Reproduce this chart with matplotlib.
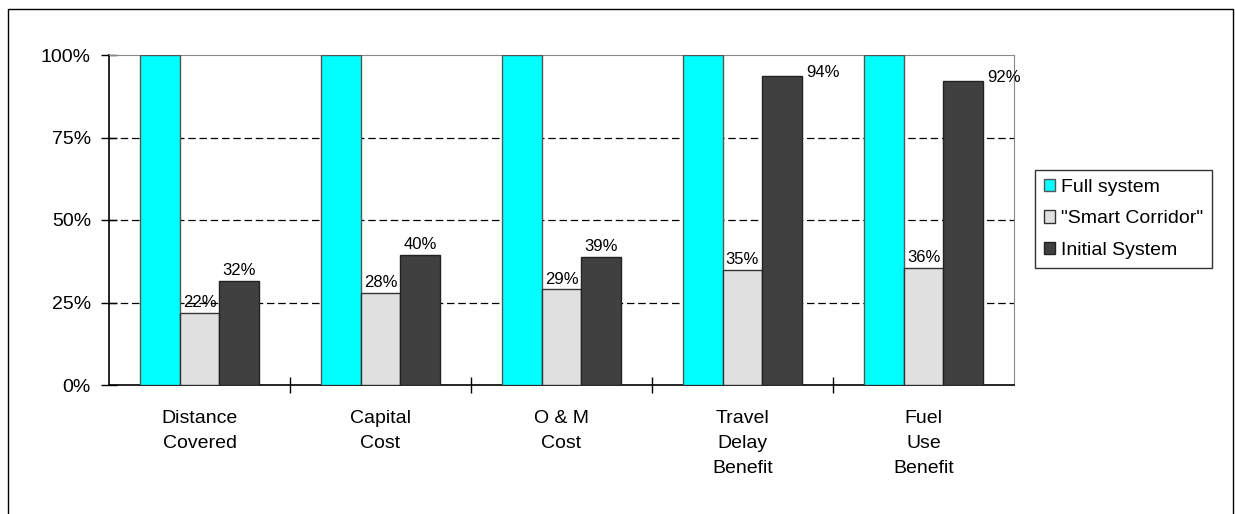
import numpy as np
import matplotlib.pyplot as plt
from matplotlib.lines import Line2D

plt.rcParams["font.family"] = ["Liberation Sans", "DejaVu Sans"]

# categories and series (share of the full system)
categories = ["Distance\nCovered", "Capital\nCost", "O & M\nCost",
              "Travel\nDelay\nBenefit", "Fuel\nUse\nBenefit"]
full_system = [1.00, 1.00, 1.00, 1.00, 1.00]
smart_corridor = [0.218, 0.28, 0.29, 0.35, 0.355]
initial_system = [0.315, 0.395, 0.388, 0.935, 0.922]
series_names = ["Full system", '"Smart Corridor"', "Initial System"]
series_colors = ["#00FFFF", "#E0E0E0", "#404040"]

fig = plt.figure(figsize=(12.35, 5.14), dpi=100)
ax = fig.add_axes([109 / 1235, 1 - 385 / 514, 905 / 1235, 330 / 514])

# outer chart frame (left, top, right)
fx = [8 / 1235, 8 / 1235, 1233 / 1235, 1233 / 1235]
fy = [0, 1 - 9 / 514, 1 - 9 / 514, 0]
fig.lines.append(Line2D(fx, fy, transform=fig.transFigure,
                        color="black", linewidth=1.0))

x = np.arange(len(categories))
w = 0.22
ax.bar(x - w, full_system, w, color=series_colors[0],
       edgecolor="#555555", linewidth=1.0, label=series_names[0], zorder=3)
ax.bar(x, smart_corridor, w, color=series_colors[1],
       edgecolor="#333333", linewidth=1.0, label=series_names[1], zorder=3)
ax.bar(x + w, initial_system, w, color=series_colors[2],
       edgecolor="#222222", linewidth=1.0, label=series_names[2], zorder=3)

# value labels on the two smaller series
for xs, vals in [(x, smart_corridor), (x + w, initial_system)]:
    for xi, v in zip(xs, vals):
        if v > 0.9:
            ax.text(xi + w / 2 + 0.02, v - 0.012, f"{v:.0%}", ha="left",
                    va="bottom", fontsize=12, zorder=4)
        else:
            ax.text(xi, v + 0.008, f"{v:.0%}", ha="center", va="bottom",
                    fontsize=12, zorder=4)

ax.set_xlim(-0.5, 4.5)
ax.set_ylim(0, 1)
ax.set_yticks([0, 0.25, 0.5, 0.75, 1.0])
ax.set_yticklabels(["0%", "25%", "50%", "75%", "100%"], fontsize=14)
for y in [0.25, 0.5, 0.75]:
    ax.axhline(y, color="black", linestyle=(0, (6, 3)), linewidth=0.9, zorder=1)

# category ticks sit between groups, labels centred under groups
ax.set_xticks(np.arange(0.5, 4.5, 1.0))
ax.set_xticklabels([])
ax.set_xticks(x, minor=True)
ax.set_xticklabels(categories, minor=True, fontsize=14, linespacing=1.6)
ax.tick_params(axis="x", which="minor", length=0, pad=18)
ax.tick_params(axis="x", which="major", direction="inout", length=12, width=1)
ax.tick_params(axis="y", direction="inout", length=12, width=1, pad=7)

for side in ["top", "right"]:
    ax.spines[side].set_color("#888888")
for side in ["left", "bottom"]:
    ax.spines[side].set_linewidth(1.2)

leg = fig.legend(loc="upper left", bbox_to_anchor=(1035 / 1235, 1 - 170 / 514),
                 fontsize=14, frameon=True, fancybox=False, edgecolor="black",
                 handlelength=0.6, handleheight=0.6, handletextpad=0.3,
                 labelspacing=0.75, borderpad=0.45, borderaxespad=0)
leg.get_frame().set_linewidth(1.0)

fig.savefig("out.png", dpi=100)
